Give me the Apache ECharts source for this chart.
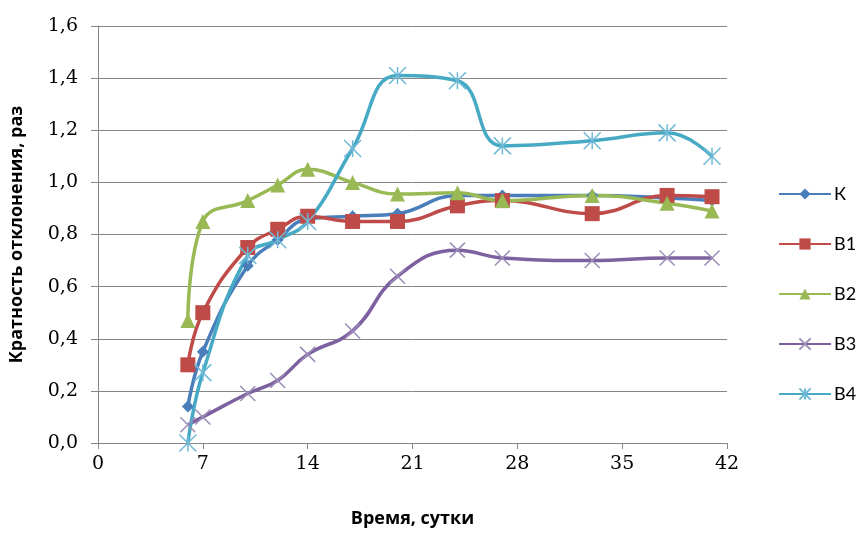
<!DOCTYPE html>
<html>
<head>
<meta charset="utf-8">
<script src="https://cdn.jsdelivr.net/npm/echarts@6/dist/echarts.min.js"></script>
<style>
  html, body { margin: 0; padding: 0; background: #fff; }
  #chart { width: 861px; height: 533px; }
</style>
</head>
<body>
<div id="chart"></div>
<script>
// days of measurement
const days = [6, 7, 10, 12, 14, 17, 20, 24, 27, 33, 38, 41];
const names = ["К", "В1", "В2", "В3", "В4"];

const valK  = [0.14, 0.35, 0.68, 0.78, 0.86, 0.87, 0.88, 0.95, 0.95, 0.95, 0.94, 0.93];
const valB1 = [0.30, 0.50, 0.75, 0.82, 0.87, 0.85, 0.85, 0.91, 0.93, 0.88, 0.95, 0.945];
const valB2 = [0.47, 0.85, 0.93, 0.99, 1.05, 1.00, 0.955, 0.96, 0.93, 0.95, 0.92, 0.89];
const valB3 = [0.07, 0.10, 0.19, 0.24, 0.34, 0.43, 0.64, 0.74, 0.71, 0.70, 0.71, 0.71];
const valB4 = [0.00, 0.27, 0.72, 0.78, 0.85, 1.13, 1.41, 1.39, 1.14, 1.16, 1.19, 1.10];

const xMark = "path://M0,0L10,10M10,0L0,10";
const starMark = "path://M0,0L10,10M10,0L0,10M5,0L5,10";

function pairs(vals) {
  return days.map((d, i) => [d, vals[i]]);
}

const chart = echarts.init(document.getElementById("chart"));

function line(name, vals, color, symbol, size, markerStyle) {
  return {
    name: name,
    type: "line",
    smooth: 0.45,
    data: pairs(vals),
    symbol: symbol,
    symbolSize: size,
    showSymbol: true,
    lineStyle: { color: color, width: 3.5 },
    itemStyle: markerStyle || { color: color },
    emphasis: { disabled: true }
  };
}

chart.setOption({
  animation: false,
  grid: { left: 97, right: 134, top: 26, bottom: 82 },
  legend: {
    orient: "vertical",
    left: 773,
    top: 180,
    itemWidth: 52,
    itemHeight: 14,
    itemGap: 32,
    data: names,
    textStyle: { fontFamily: "Lato", fontSize: 18, color: "#000", padding: [0, 0, 0, -2] }
  },
  xAxis: {
    type: "value",
    min: 0,
    max: 42,
    interval: 7,
    name: "Время, сутки",
    nameLocation: "middle",
    nameGap: 67,
    nameTextStyle: { fontFamily: "Open Sans", fontWeight: "bold", fontSize: 18, color: "#000" },
    axisLine: { show: true, onZero: false, lineStyle: { color: "#868686", width: 1 } },
    axisTick: { show: true, length: 6, lineStyle: { color: "#868686" } },
    axisLabel: { margin: 12, fontFamily: "DejaVu Serif", fontSize: 19, color: "#000" },
    splitLine: { show: false }
  },
  yAxis: {
    type: "value",
    min: 0,
    max: 1.6,
    interval: 0.2,
    name: "Кратность отклонения, раз",
    nameLocation: "middle",
    nameGap: 72,
    nameTextStyle: { fontFamily: "Open Sans", fontWeight: "bold", fontSize: 18, color: "#000" },
    axisLine: { show: true, lineStyle: { color: "#868686", width: 1 } },
    axisTick: { show: true, length: 7, lineStyle: { color: "#868686" } },
    axisLabel: {
      margin: 20,
      fontFamily: "DejaVu Serif",
      fontSize: 19,
      color: "#000",
      formatter: v => v.toFixed(1).replace(".", ",")
    },
    splitLine: { show: true, lineStyle: { color: "#868686", width: 1 } }
  },
  series: [
    line(names[0], valK, "#4A7EBB", "diamond", 12),
    line(names[1], valB1, "#BE4B48", "rect", 15),
    line(names[2], valB2, "#98B954", "triangle", 15),
    line(names[3], valB3, "#7D60A0", xMark, 15,
      { color: "#7D60A0", borderColor: "#9c8cb8", borderWidth: 1.5 }),
    line(names[4], valB4, "#46AAC5", starMark, 17,
      { color: "#46AAC5", borderColor: "#6fb9d6", borderWidth: 1.5 })
  ]
});
</script>
</body>
</html>
